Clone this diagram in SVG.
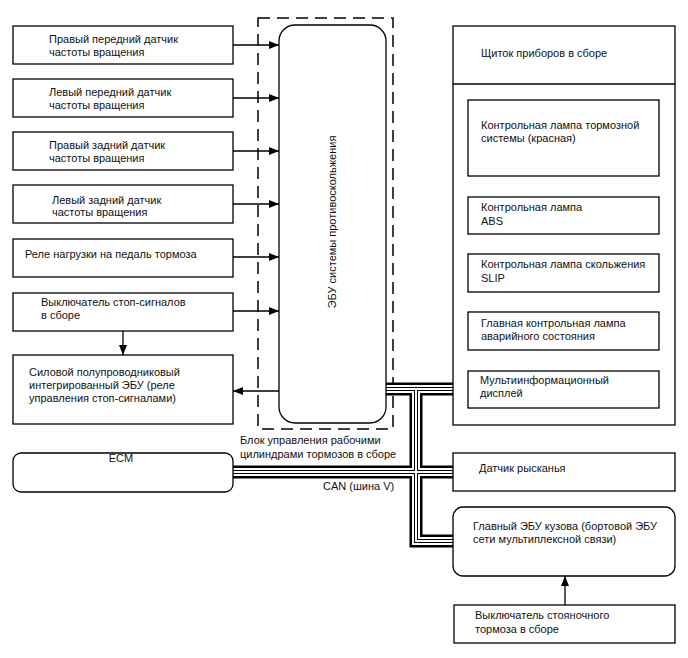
<svg xmlns="http://www.w3.org/2000/svg" width="688" height="658" viewBox="0 0 688 658">
<style>
  text { font-family: "Liberation Sans", Arial, sans-serif; font-size: 11px; fill: #111; }
  .box { fill: #fff; stroke: #000; stroke-width: 1.3; }
  .ln { fill: none; stroke: #000; stroke-width: 1.3; }
  .dash { fill: none; stroke: #000; stroke-width: 1.5; stroke-dasharray: 12 7; }
  .b1 { fill: none; stroke: #000; stroke-width: 13; }
  .b2 { fill: none; stroke: #fff; stroke-width: 8; }
  .b3 { fill: none; stroke: #000; stroke-width: 4; }
  .b4 { fill: none; stroke: #fff; stroke-width: 2; }
</style>
<defs>
  <marker id="ah" viewBox="0 0 10 8" refX="10" refY="4" markerWidth="10" markerHeight="8" markerUnits="userSpaceOnUse" orient="auto">
    <path d="M0,0 L10,4 L0,8 Z" fill="#000"/>
  </marker>
</defs>
<rect width="688" height="658" fill="#fff"/>

<g id="abs-unit-boundary">
  <rect class="dash" x="258" y="18" width="135" height="411"/>
  <text x="240" y="444">Блок управления рабочими</text>
  <text x="240" y="458">цилиндрами тормозов в сборе</text>
</g>

<g id="connectors">
  <line class="ln" x1="233" y1="45" x2="279" y2="45" marker-end="url(#ah)"/>
  <line class="ln" x1="233" y1="98" x2="279" y2="98" marker-end="url(#ah)"/>
  <line class="ln" x1="233" y1="151" x2="279" y2="151" marker-end="url(#ah)"/>
  <line class="ln" x1="233" y1="204" x2="279" y2="204" marker-end="url(#ah)"/>
  <line class="ln" x1="233" y1="257" x2="279" y2="257" marker-end="url(#ah)"/>
  <line class="ln" x1="233" y1="311" x2="279" y2="311" marker-end="url(#ah)"/>
  <line class="ln" x1="279" y1="391" x2="233" y2="391" marker-end="url(#ah)"/>
  <line class="ln" x1="123" y1="331" x2="123" y2="355" marker-end="url(#ah)"/>
  <line class="ln" x1="565" y1="605" x2="565" y2="576" marker-end="url(#ah)"/>
  <g id="can-bus">
    <path class="b1" d="M386,389 H453 M416,389 V541 H453 M233,472 H453"/>
    <path class="b2" d="M386,389 H453 M416,389 V541 H453 M233,472 H453"/>
    <path class="b3" d="M386,389 H453 M416,389 V541 H453 M233,472 H453"/>
    <path class="b4" d="M386,389 H453 M416,389 V541 H453 M233,472 H453"/>
  </g>
  <text x="323" y="490">CAN (шина V)</text>
</g>

<g id="fr-speed-sensor">
  <rect class="box" x="13" y="26" width="220" height="38"/>
  <text x="49" y="43">Правый передний датчик</text>
  <text x="49" y="56">частоты вращения</text>
</g>
<g id="fl-speed-sensor">
  <rect class="box" x="13" y="79" width="220" height="38"/>
  <text x="49" y="96">Левый передний датчик</text>
  <text x="49" y="109">частоты вращения</text>
</g>
<g id="rr-speed-sensor">
  <rect class="box" x="13" y="132" width="220" height="38"/>
  <text x="49" y="149">Правый задний датчик</text>
  <text x="49" y="162">частоты вращения</text>
</g>
<g id="rl-speed-sensor">
  <rect class="box" x="13" y="185" width="220" height="38"/>
  <text x="52" y="204">Левый задний датчик</text>
  <text x="52" y="216">частоты вращения</text>
</g>
<g id="pedal-load-relay">
  <rect class="box" x="13" y="239" width="220" height="38"/>
  <text x="25" y="258">Реле нагрузки на педаль тормоза</text>
</g>
<g id="stop-light-switch">
  <rect class="box" x="13" y="293" width="220" height="38"/>
  <text x="41" y="306">Выключатель стоп-сигналов</text>
  <text x="41" y="319">в сборе</text>
</g>
<g id="power-semiconductor-ecu">
  <rect class="box" x="13" y="355" width="220" height="69"/>
  <text x="29" y="376">Силовой полупроводниковый</text>
  <text x="29" y="389">интегрированный ЭБУ (реле</text>
  <text x="29" y="402">управления стоп-сигналами)</text>
</g>

<g id="skid-control-ecu">
  <rect class="box" x="279" y="25" width="107" height="398" rx="16" ry="16"/>
  <text transform="translate(336,222) rotate(-90)" text-anchor="middle">ЭБУ системы противоскольжения</text>
</g>

<g id="ecm">
  <rect class="box" x="13" y="453" width="220" height="39" rx="8" ry="8"/>
  <text x="121" y="462" text-anchor="middle">ECM</text>
</g>

<g id="combination-meter">
  <rect class="box" x="453" y="26" width="222" height="399"/>
  <line class="ln" x1="453" y1="84" x2="675" y2="84"/>
  <text x="481" y="57">Щиток приборов в сборе</text>
</g>
<g id="brake-warning-lamp">
  <rect class="box" x="468" y="100" width="191" height="76"/>
  <text x="481" y="129">Контрольная лампа тормозной</text>
  <text x="481" y="142">системы (красная)</text>
</g>
<g id="abs-lamp">
  <rect class="box" x="468" y="197" width="191" height="37"/>
  <text x="481" y="211">Контрольная лампа</text>
  <text x="481" y="225">ABS</text>
</g>
<g id="slip-lamp">
  <rect class="box" x="468" y="254" width="191" height="38"/>
  <text x="481" y="268">Контрольная лампа скольжения</text>
  <text x="481" y="282">SLIP</text>
</g>
<g id="master-warning-lamp">
  <rect class="box" x="468" y="312" width="191" height="38"/>
  <text x="481" y="327">Главная контрольная лампа</text>
  <text x="481" y="340">аварийного состояния</text>
</g>
<g id="multi-display">
  <rect class="box" x="468" y="371" width="191" height="37"/>
  <text x="480" y="384">Мультиинформационный</text>
  <text x="480" y="397">дисплей</text>
</g>

<g id="yaw-rate-sensor">
  <rect class="box" x="453" y="453" width="222" height="38"/>
  <text x="479" y="472">Датчик рысканья</text>
</g>
<g id="main-body-ecu">
  <rect class="box" x="453" y="507" width="222" height="69" rx="10" ry="10"/>
  <text x="473" y="530">Главный ЭБУ кузова (бортовой ЭБУ</text>
  <text x="473" y="543">сети мультиплексной связи)</text>
</g>
<g id="parking-brake-switch">
  <rect class="box" x="454" y="605" width="221" height="38"/>
  <text x="475" y="619">Выключатель стояночного</text>
  <text x="475" y="633">тормоза в сборе</text>
</g>
</svg>
